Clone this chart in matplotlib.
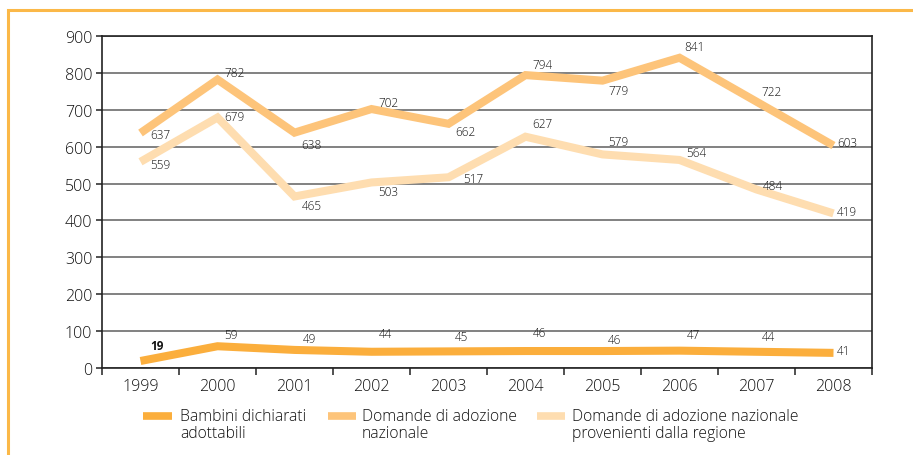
import matplotlib
matplotlib.use("Agg")
import matplotlib.pyplot as plt
from matplotlib.lines import Line2D
import numpy as np

years = ["1999", "2000", "2001", "2002", "2003", "2004", "2005", "2006", "2007", "2008"]
bambini = [19, 59, 49, 44, 45, 46, 46, 47, 44, 41]
domande = [637, 782, 638, 702, 662, 794, 779, 841, 722, 603]
regione = [559, 679, 465, 503, 517, 627, 579, 564, 484, 419]
series_names = ["Bambini dichiarati\nadottabili",
                "Domande di adozione\nnazionale",
                "Domande di adozione nazionale\nprovenienti dalla regione"]
y_ticks = [0, 100, 200, 300, 400, 500, 600, 700, 800, 900]

colors = ["#FBAE3C", "#FDC47A", "#FEDDB0"]

# label offsets in pixels (dx to left edge, dy downward) -- layout only
off_bambini = [(10, -15), (7, -12), (8, -11), (7, -18), (6, -15), (7, -19), (5, -12), (7, -16), (5, -15), (3, -2)]
off_domande = [(10, 1), (7, -7), (7, 12), (7, -7), (7, 8), (7, -11), (6, 10), (5, -11), (5, -10), (4, -3)]
off_regione = [(10, 3), (7, -1), (7, 9), (7, 9), (15, 1), (7, -13), (6, -13), (7, -7), (6, -4), (3, -2)]

W, H = 913, 456
fig = plt.figure(figsize=(W / 100, H / 100), dpi=100)
ax = fig.add_axes([102 / W, 1 - 369 / H, (872 - 102) / W, (369 - 37) / H])

FONT = "Open Sans"
WEIGHT = "light"
TXT = "#111111"
x = np.arange(len(years))

order = [(regione, colors[2]), (domande, colors[1]), (bambini, colors[0])]
for vals, col in order:
    ax.plot(x, vals, color=col, lw=5.8, solid_capstyle="butt", solid_joinstyle="miter", zorder=3)
for idx, (vals, offs) in enumerate([(bambini, off_bambini), (domande, off_domande), (regione, off_regione)]):
    for i, v in enumerate(vals):
        dx, dy = offs[i]
        bold = (idx == 0 and i == 0)
        ax.annotate(str(v), (x[i], v), xytext=(dx, -dy), textcoords="offset pixels",
                    ha="left", va="center", fontsize=8.5, color=TXT,
                    fontweight="bold" if bold else WEIGHT, family=FONT, zorder=5)

ax.set_xlim(-0.5, len(years) - 0.5)
ax.set_ylim(0, 900)
ax.set_yticks(y_ticks)
ax.set_yticklabels([str(t) for t in y_ticks], fontsize=11.5, family=FONT, color=TXT, fontweight=WEIGHT)
ax.set_xticks(x)
ax.set_xticklabels(years, fontsize=11.5, family=FONT, color=TXT, fontweight=WEIGHT)
ax.set_xticks(np.arange(-0.5, len(years)), minor=True)
ax.tick_params(axis="x", which="major", length=0, pad=7)
ax.tick_params(axis="x", which="minor", length=5, width=1.2, color="#333333", direction="out")
ax.tick_params(axis="y", length=4, width=1.2, color="#333333", pad=3)
ax.grid(axis="y", color="#777777", lw=1.3, zorder=1)
ax.set_axisbelow(True)
for s in ax.spines.values():
    s.set_color("#222222")
    s.set_linewidth(1.2)

# legend drawn manually
leg = [(143, 172, 180), (328, 356, 362), (537, 565, 572)]
for (x0, x1, tx), col, name in zip(leg, colors, series_names):
    fig.add_artist(Line2D([x0 / W, x1 / W], [1 - 417 / H, 1 - 417 / H], color=col, lw=5.5,
                          solid_capstyle="butt", transform=fig.transFigure))
    fig.text(tx / W, 1 - 409 / H, name, ha="left", va="top", fontsize=11.3, family=FONT,
             fontweight=WEIGHT, color=TXT, linespacing=1.1)

# orange frame
fig.add_artist(Line2D([8 / W, 8 / W, 1], [0, 1 - 11 / H, 1 - 11 / H], color="#FBB848", lw=2.2,
                      transform=fig.transFigure, solid_joinstyle="miter"))

fig.savefig("out.png", dpi=100)
